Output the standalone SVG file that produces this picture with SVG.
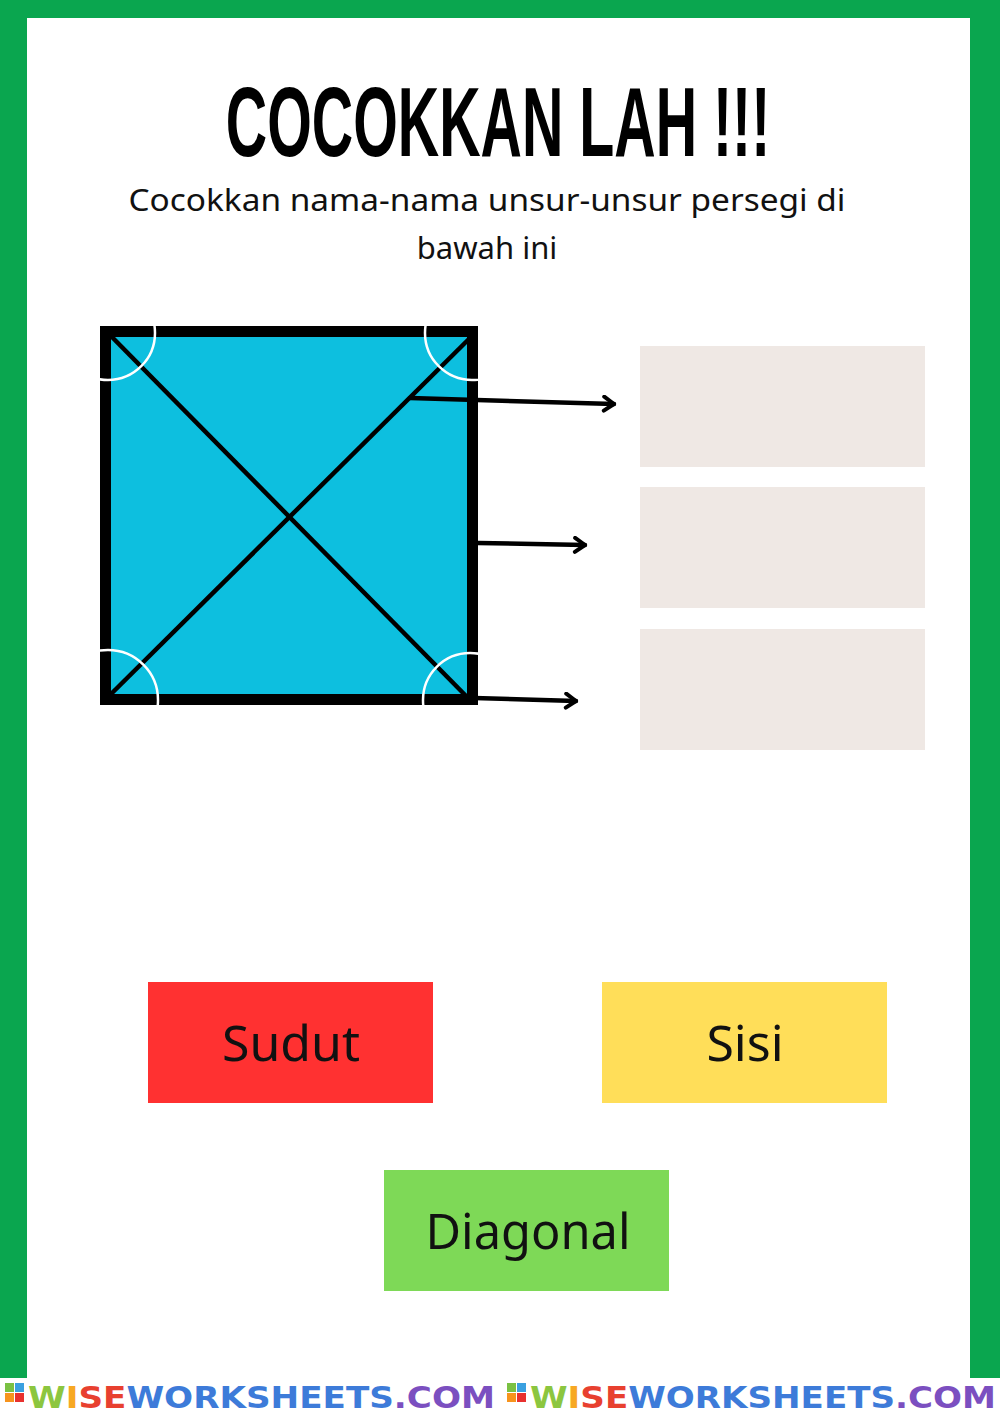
<svg xmlns="http://www.w3.org/2000/svg" width="1000" height="1414" viewBox="0 0 1000 1414">
<style>
.sub{font-family:"Noto Sans","Liberation Sans",sans-serif;font-size:31px;fill:#111;}
.btn{font-family:"Noto Sans","Liberation Sans",sans-serif;font-size:50px;fill:#111;text-anchor:middle;}
.slot{fill:#efe8e4;}
.conn{stroke:#000;stroke-width:4.5;fill:none;stroke-linecap:round;}
.arc{stroke:#fff;stroke-width:2.5;fill:none;}
.wm{font-family:"DejaVu Sans",sans-serif;font-weight:bold;font-size:30px;}
</style>
<defs>
<marker id="ah" viewBox="0 0 16 18" refX="14" refY="9" markerWidth="16" markerHeight="18" markerUnits="userSpaceOnUse" orient="auto">
<path d="M4,2 L14,9 L4,16" fill="none" stroke="#000" stroke-width="4" stroke-linecap="round" stroke-linejoin="round"/>
</marker>
<clipPath id="sq"><rect x="100" y="326" width="378" height="379"/></clipPath>
</defs>
<rect x="0" y="0" width="1000" height="1414" fill="#0aa64f"/>
<rect x="27" y="18" width="943" height="1396" fill="#fff"/>
<rect x="0" y="1378" width="1000" height="36" fill="#fff"/>

<g id="title">
<text transform="translate(498,156) scale(0.585,1)" x="0" y="0" text-anchor="middle" font-family="Liberation Sans, sans-serif" font-weight="bold" font-size="98" fill="#000">COCOKKAN LAH !!!</text>
<text class="sub" x="487" y="211" text-anchor="middle" textLength="717" lengthAdjust="spacingAndGlyphs">Cocokkan nama-nama unsur-unsur persegi di</text>
<text class="sub" x="487" y="259" text-anchor="middle">bawah ini</text>
</g>

<g id="square">
<rect x="100" y="326" width="378" height="379" fill="#0dbfdf"/>
<line x1="108" y1="333" x2="470" y2="700" stroke="#000" stroke-width="4.5"/>
<line x1="108" y1="697" x2="474" y2="334" stroke="#000" stroke-width="4.5"/>
<rect x="105.5" y="331.5" width="367" height="368" fill="none" stroke="#000" stroke-width="11"/>
<g clip-path="url(#sq)">
<circle class="arc" cx="108" cy="333" r="47"/>
<circle class="arc" cx="472" cy="333" r="47"/>
<circle class="arc" cx="108" cy="700" r="50"/>
<circle class="arc" cx="470" cy="700" r="47"/>
</g>
</g>

<g id="connectors">
<line class="conn" x1="410" y1="398" x2="614" y2="404" marker-end="url(#ah)"/>
<line class="conn" x1="478" y1="543" x2="585" y2="545" marker-end="url(#ah)"/>
<line class="conn" x1="474" y1="698" x2="576" y2="701" marker-end="url(#ah)"/>
</g>

<g id="slot1"><rect class="slot" x="640" y="346" width="285" height="121"/></g>
<g id="slot2"><rect class="slot" x="640" y="487" width="285" height="121"/></g>
<g id="slot3"><rect class="slot" x="640" y="629" width="285" height="121"/></g>

<g id="sudut"><rect x="148" y="982" width="285" height="121" fill="#ff3131"/><text class="btn" x="291" y="1061">Sudut</text></g>
<g id="sisi"><rect x="602" y="982" width="285" height="121" fill="#ffde59"/><text class="btn" x="745" y="1061">Sisi</text></g>
<g id="diagonal"><rect x="384" y="1170" width="285" height="121" fill="#7ed957"/><text class="btn" x="528" y="1249" textLength="205" lengthAdjust="spacingAndGlyphs">Diagonal</text></g>

<g id="watermark">
<rect x="5" y="1383" width="9" height="9" fill="#7ac143"/><rect x="15" y="1383" width="9" height="9" fill="#3aa0e0"/>
<rect x="5" y="1393" width="9" height="9" fill="#f7941d"/><rect x="15" y="1393" width="9" height="9" fill="#e8312f"/>
<text class="wm" x="28" y="1408" textLength="467" lengthAdjust="spacingAndGlyphs"><tspan fill="#8cc63f">W</tspan><tspan fill="#f7a823">I</tspan><tspan fill="#e8402f">S</tspan><tspan fill="#e8402f">E</tspan><tspan fill="#3d7bd9">WORKSHEETS</tspan><tspan fill="#7b4fc0">.COM</tspan></text>
<rect x="507" y="1383" width="9" height="9" fill="#7ac143"/><rect x="517" y="1383" width="9" height="9" fill="#3aa0e0"/>
<rect x="507" y="1393" width="9" height="9" fill="#f7941d"/><rect x="517" y="1393" width="9" height="9" fill="#e8312f"/>
<text class="wm" x="530" y="1408" textLength="466" lengthAdjust="spacingAndGlyphs"><tspan fill="#8cc63f">W</tspan><tspan fill="#f7a823">I</tspan><tspan fill="#e8402f">S</tspan><tspan fill="#e8402f">E</tspan><tspan fill="#3d7bd9">WORKSHEETS</tspan><tspan fill="#7b4fc0">.COM</tspan></text>
</g>
</svg>
